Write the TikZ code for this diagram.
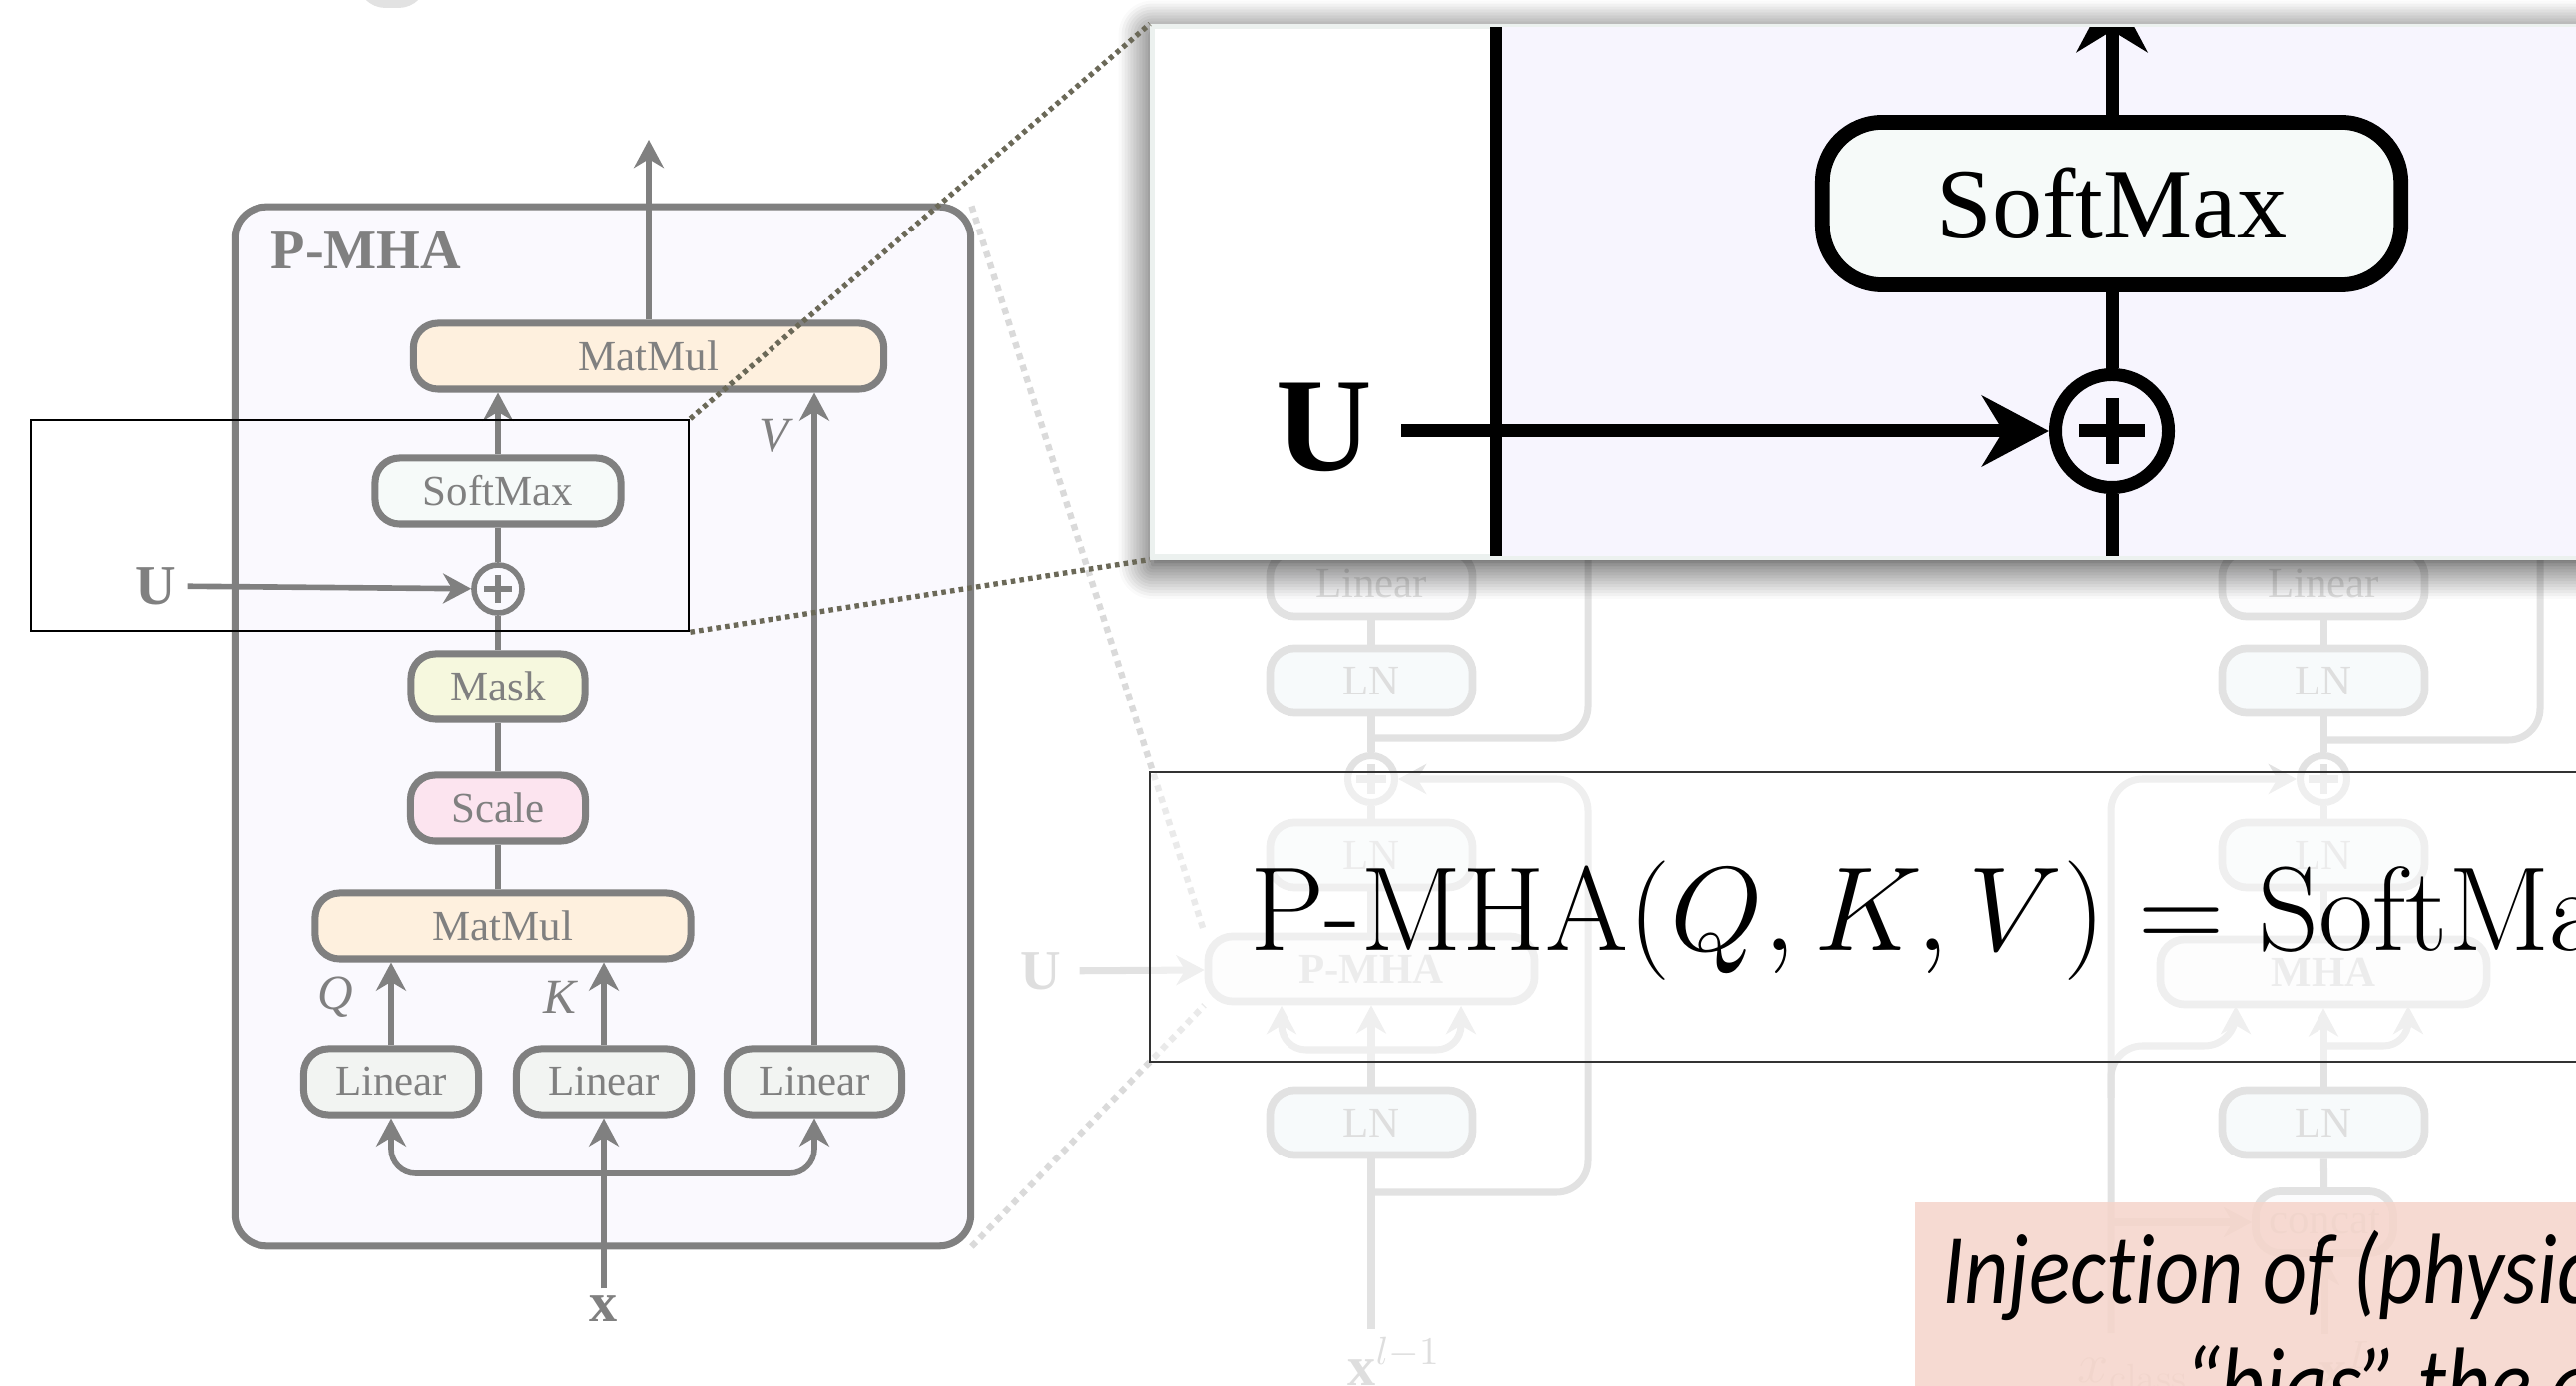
\RequirePackage{fix-cm}
\documentclass[tikz,border=0pt]{standalone}
\usepackage{amsmath}
\usepackage{fontspec}
\newfontfamily\timesfont{Liberation Serif}
\newfontfamily\calloutfont[FakeStretch=0.86, Ligatures=NoCommon]{Carlito}
\usetikzlibrary{arrows.meta,calc,shadows.blur}

\definecolor{mhagray}{RGB}{128,128,128}
\definecolor{mhalav}{RGB}{250,249,254}
\definecolor{panellav}{RGB}{247,245,254}
\definecolor{panelrim}{RGB}{236,241,239}
\definecolor{mmorange}{RGB}{254,240,222}
\definecolor{smwhite}{RGB}{246,250,249}
\definecolor{maskyellow}{RGB}{246,248,222}
\definecolor{scalepink}{RGB}{252,228,239}
\definecolor{lingray}{RGB}{242,244,242}
\definecolor{fadegray}{RGB}{226,226,226}
\definecolor{fadetext}{RGB}{222,222,222}
\definecolor{fadeln}{RGB}{247,250,251}
\definecolor{fadefill}{RGB}{252,252,253}
\definecolor{zoomdot}{RGB}{107,105,88}
\definecolor{fadedot}{RGB}{218,218,218}
\definecolor{framegray}{RGB}{51,51,51}
\definecolor{calloutpink}{RGB}{245,212,202}

\tikzset{
  arr/.style={-{Stealth[length=8pt,width=8.5pt,inset=2.5pt]}},
  bigarr/.style={-{Stealth[length=19pt,width=20pt,inset=6pt]}},
  adder/.style args={#1/#2/#3}{circle, draw=#1, line width=#2, inner sep=0pt,
    path picture={\draw[#1, line width=#2] (path picture bounding box.center)
      +(-#3,0) -- +(#3,0) +(0,-#3) -- +(0,#3);}},
  % gray P-MHA block
  mhaline/.style={draw=mhagray, line width=1.6pt},
  mhabox/.style={draw=mhagray, line width=2pt, rounded corners=7pt, text=mhagray,
    inner sep=0pt, minimum height=0.66cm, font=\timesfont\fontsize{12.2}{14}\selectfont},
  mhalabel/.style={text=mhagray, inner sep=1pt, font=\timesfont\itshape\fontsize{14}{16}\selectfont},
  mhabold/.style={text=mhagray, inner sep=2pt, font=\timesfont\bfseries\fontsize{16}{18}\selectfont},
  % washed-out transformer block behind
  fline/.style={draw=fadegray, line width=2pt},
  fbox/.style={draw=fadegray, line width=2.2pt, rounded corners=7pt, text=fadetext, fill=fadefill,
    inner sep=0pt, minimum width=2.03cm, minimum height=0.65cm, font=\timesfont\fontsize{12.2}{14}\selectfont},
  flabel/.style={text=fadetext, inner sep=2pt, font=\timesfont\fontsize{16}{18}\selectfont},
  % enlarged view
  zline/.style={draw=black, line width=3.7pt},
  zbox/.style={draw=black, line width=4.2pt, rounded corners=17pt, fill=smwhite, inner sep=0pt,
    font=\timesfont\fontsize{28.5}{30}\selectfont},
  zoomdots/.style={draw=zoomdot, line width=1.5pt, dash pattern=on 1.3pt off 1.2pt},
  fadedots/.style={draw=fadedot, line width=1.8pt, dash pattern=on 1.8pt off 1.6pt},
}

\begin{document}
\begin{tikzpicture}[x=0.01cm, y=-0.01cm]
\useasboundingbox (0,0) rectangle (2581,1389);

% === Faded transformer block (background) ===
\node[fbox, minimum width=0.62cm, minimum height=0.6cm, anchor=south] (ftop) at (393,8) {};

% left column
\node[fbox] (flinA) at (1374,585) {Linear};
\node[fbox, fill=fadeln] (flnA) at (1374,682) {LN};
\node[adder={fadegray/2pt/15}, minimum size=0.47cm] (faddA) at (1374,781) {};
\node[fbox, fill=fadeln] (flnB) at (1374,857) {LN};
\node[fbox, minimum width=3.27cm, font=\timesfont\bfseries\fontsize{12.2}{14}\selectfont] (fpmha) at (1374,971) {P-MHA};
\node[fbox, fill=fadeln] (flnC) at (1374,1125) {LN};
\node[flabel, anchor=base west] (fxA) at (1343,1388) {\textbf{x}$^{l-1}$};
\node[flabel, font=\timesfont\bfseries\fontsize{16}{18}\selectfont, inner sep=5pt] (fuA) at (1043,973) {U};

\coordinate (fsplitA) at (1374,1052);
\coordinate (fqA) at (1284,1008);
\coordinate (fvA) at (1464,1008);
\coordinate (fresA) at (1374,1195);
\coordinate (fturnA) at (1591,781);
\coordinate (fskipA) at (1374,740);
\coordinate (fupA) at (1591,520);

\draw[fline] (flnC |- fxA.north) -- (flnC);
\draw[fline, arr] (flnC) -- (fpmha);
\draw[fline, arr, rounded corners=7pt] (fsplitA) -| (fqA);
\draw[fline, arr, rounded corners=7pt] (fsplitA) -| (fvA);
\draw[fline, arr] (fuA) -- (fpmha);
\draw[fline] (fpmha) -- (flnB);
\draw[fline] (flnB) -- (faddA);
\draw[fline] (faddA) -- (flnA);
\draw[fline] (flnA) -- (flinA);
\draw[fline] (flinA) -- (flinA |- fupA);
\draw[fline, arr, rounded corners=9pt] (fresA) -| (fturnA) -- (faddA);
\draw[fline, rounded corners=9pt] (fskipA) -| (fupA);

% right column
\node[fbox] (flinB) at (2328,585) {Linear};
\node[fbox, fill=fadeln] (flnD) at (2328,682) {LN};
\node[adder={fadegray/2pt/15}, minimum size=0.47cm] (faddB) at (2328,781) {};
\node[fbox, fill=fadeln] (flnE) at (2328,857) {LN};
\node[fbox, minimum width=3.27cm, font=\timesfont\bfseries\fontsize{12.2}{14}\selectfont] (fmha) at (2328,974) {MHA};
\node[fbox, fill=fadeln] (flnF) at (2328,1125) {LN};
\node[fbox, minimum width=1.38cm, minimum height=0.62cm] (fconcat) at (2329,1225) {concat};
\node[flabel, anchor=base west] (fxL) at (2316,1392) {\textbf{x}$^{L}$};
\node[flabel, anchor=base west] (fxcls) at (2074,1386) {$x_{\mathrm{class}}$};

\coordinate (fsplitB) at (2328,1048);
\coordinate (fvB) at (2413,1008);
\coordinate (fclsB) at (2115,1336);
\coordinate (fclsturn) at (2115,781);
\coordinate (fclsq) at (2115,1100);
\coordinate (fqB) at (2240,1008);
\coordinate (fclscat) at (2115,1225);
\coordinate (fskipB) at (2328,742);
\coordinate (fupB) at (2545,520);

\draw[fline, arr] (fxL.north -| fconcat) -- (fconcat);
\draw[fline] (fconcat) -- (flnF);
\draw[fline, arr] (flnF) -- (fmha);
\draw[fline, arr, rounded corners=7pt] (fsplitB) -| (fvB);
\draw[fline] (fmha) -- (flnE);
\draw[fline] (flnE) -- (faddB);
\draw[fline] (faddB) -- (flnD);
\draw[fline] (flnD) -- (flinB);
\draw[fline] (flinB) -- (flinB |- fupB);
\draw[fline, rounded corners=9pt] (fskipB) -| (fupB);
\draw[fline, arr, rounded corners=9pt] (fclsB) -- (fclsturn) -- (faddB);
\draw[fline, arr, rounded corners=9pt] (fclsq) |- (fsplitB -| fqB) -- (fqB);
\draw[fline, arr] (fclscat) -- (fconcat);

% === Dotted guides to the small block ===
\node[draw=none, minimum width=7.37cm, minimum height=10.41cm] (pmhaframe) at (604,728) {};
\draw[fadedots] (pmhaframe.north east) -- (fpmha.north west);
\draw[fadedots] (pmhaframe.south east) -- (fpmha.south west);

% === P-MHA block ===
\node[draw=mhagray, fill=mhalav, line width=2pt, rounded corners=9pt,
      minimum width=7.37cm, minimum height=10.41cm] (pmha) at (604,728) {};
\node[mhabold, anchor=base west, inner sep=0pt] (pmhatitle) at (271,270) {P-MHA};

\node[mhabox, fill=mmorange, minimum width=4.71cm] (mmtop) at (650,357) {MatMul};
\node[mhabox, fill=smwhite, minimum width=2.46cm] (softmax) at (499,492) {SoftMax};
\node[adder={mhagray/1.6pt/14}, minimum size=0.48cm] (plus) at (499,590) {};
\node[mhabold, inner sep=3pt] (ulabel) at (156,587) {U};
\node[mhabox, fill=maskyellow, minimum width=1.74cm] (mask) at (499,688) {Mask};
\node[mhabox, fill=scalepink, minimum width=1.75cm] (scale) at (499,810) {Scale};
\node[mhabox, fill=mmorange, minimum width=3.76cm] (mmlow) at (504,928) {MatMul};
\node[mhabox, fill=lingray, minimum width=1.75cm] (linq) at (392,1084) {Linear};
\node[mhabox, fill=lingray, minimum width=1.75cm] (link) at (605,1084) {Linear};
\node[mhabox, fill=lingray, minimum width=1.75cm] (linv) at (816,1084) {Linear};

\node[mhalabel] (qlabel) at (336,999) {Q};
\node[mhalabel] (klabel) at (561,999) {K};
\node[mhalabel] (vlabel) at (776,437) {V};
\node[mhabold] (xlabel) at (605,1312) {x};

\coordinate (mhaout) at (650,140);
\coordinate (xsplit) at (605,1176);

\draw[mhaline, arr] (mmtop) -- (mhaout);
\draw[mhaline, arr] (softmax) -- (softmax |- mmtop.south);
\draw[mhaline] (plus) -- (softmax);
\draw[mhaline, arr] (ulabel) -- (plus);
\draw[mhaline] (mask) -- (plus);
\draw[mhaline] (scale) -- (mask);
\draw[mhaline] (scale |- mmlow.north) -- (scale);
\draw[mhaline, arr] (linq) -- (linq |- mmlow.south);
\draw[mhaline, arr] (link) -- (link |- mmlow.south);
\draw[mhaline, arr] (linv) -- (linv |- mmtop.south);
\draw[mhaline, arr] (xlabel) -- (link);
\draw[mhaline, arr, rounded corners=7pt] (xsplit) -| (linq);
\draw[mhaline, arr, rounded corners=7pt] (xsplit) -| (linv);

% === Frame around the SoftMax / bias part ===
\node[draw=black, line width=0.7pt, minimum width=6.59cm, minimum height=2.11cm] (zoomsrc) at (360.5,526.5) {};

% === Enlarged view ===
\node[draw=panelrim, line width=1.5pt, fill=white, anchor=north west,
      minimum width=15cm, minimum height=5.31cm,
      blur shadow={shadow xshift=0pt, shadow yshift=-0.8mm, shadow blur radius=3.4mm,
                   shadow blur steps=12, shadow opacity=85}]
      (panel) at (1152,24) {};
\begin{scope}
  \clip ($(panel.north west)+(4,4)$) rectangle ($(panel.south east)+(0,-4)$);
  \fill[panellav] (1499,0) rectangle (2700,600);
  \draw[line width=3.5pt] (1499,0) -- (1499,600);

  \node[zbox, minimum width=5.79cm, minimum height=1.63cm] (zsoftmax) at (2116,204) {SoftMax};
  \node[adder={black/3.7pt/33}, minimum size=1.13cm] (zplus) at (2116,432) {};
  \node[inner sep=8pt, font=\timesfont\bfseries\fontsize{38}{40}\selectfont] (zu) at (1327,428) {U};
  \coordinate (zout) at (2116,-15);
  \coordinate (zin) at (2116,600);

  \draw[zline, bigarr] (zu.east |- zplus) -- (zplus);
  \draw[zline] (zplus) -- (zsoftmax);
  \draw[zline, bigarr] (zsoftmax) -- (zout);
  \draw[zline] (zin) -- (zplus);
\end{scope}

\draw[zoomdots] (zoomsrc.north east) -- (panel.north west);
\draw[zoomdots] (zoomsrc.south east) -- (panel.south west);

% === Formula ===
\node[draw=framegray, line width=0.6pt, fill=white, fill opacity=0.45, anchor=north west,
      minimum width=15.5cm, minimum height=2.9cm] (formulabox) at (1151,773) {};
\node[anchor=base west, inner sep=0pt, font=\fontsize{34}{34}\selectfont] (formula) at (1252,953)
     {$\text{P-MHA}(Q,K,V) = \text{SoftMax}$};

% === Note ===
\node[fill=calloutpink, fill opacity=0.85, anchor=north west, inner sep=0pt,
      minimum width=7.5cm, minimum height=2.5cm] (callout) at (1918,1204) {};
\node[anchor=base west, inner sep=0pt, font=\calloutfont\itshape\fontsize{28.5}{30}\selectfont] (calloutA)
     at (1946,1307) {Injection of (physics};
\node[anchor=base west, inner sep=0pt, font=\calloutfont\itshape\fontsize{28.5}{30}\selectfont] (calloutB)
     at (2188,1420) {“bias” the a};

\end{tikzpicture}
\end{document}
